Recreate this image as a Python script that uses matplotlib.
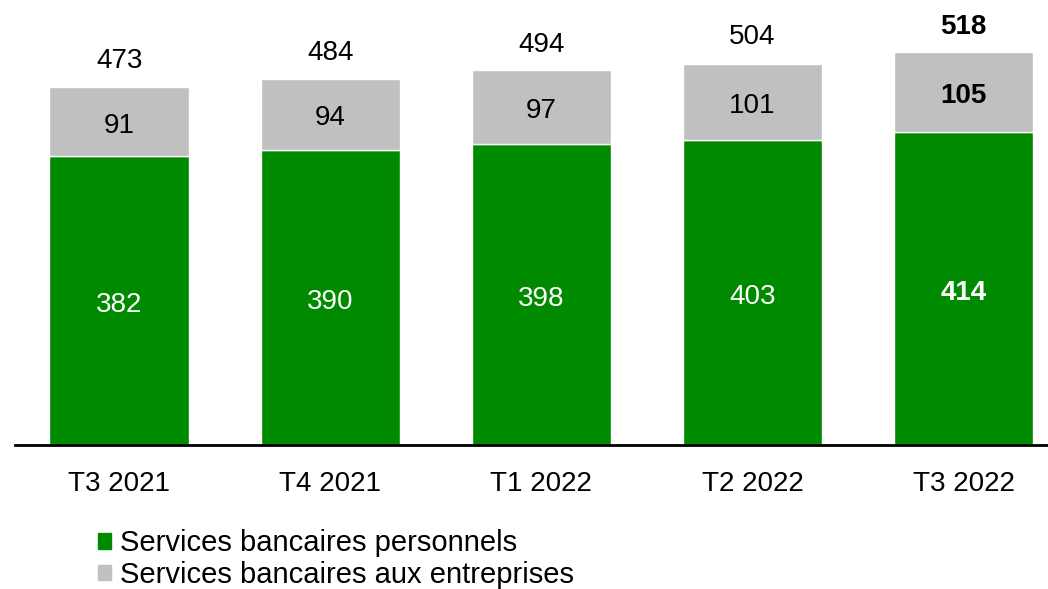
import matplotlib.pyplot as plt
from matplotlib.patches import Patch

plt.rcParams['font.family'] = ['Liberation Sans', 'DejaVu Sans']

# Données
trimestres = ["T3 2021", "T4 2021", "T1 2022", "T2 2022", "T3 2022"]
personnels = [382, 390, 398, 403, 414]
entreprises = [91, 94, 97, 101, 105]
totaux = [473, 484, 494, 504, 518]

vert = "#008a00"
gris = "#c0c0c0"

fig = plt.figure(figsize=(10.48, 5.89), dpi=100)
ax = fig.add_axes([15 / 1048, 1 - 445 / 589, 1 - 15 / 1048, 445 / 589])

x = range(len(trimestres))
ax.bar(x, personnels, width=0.66, color=vert, edgecolor="white", linewidth=1)
ax.bar(x, entreprises, bottom=personnels, width=0.66, color=gris, edgecolor="white", linewidth=1)

# Étiquettes (légèrement décalées vers le bas)
decal = (0, -3)
for i in x:
    gras = "bold" if i == len(trimestres) - 1 else "normal"
    ax.annotate(str(personnels[i]), (i, personnels[i] / 2), xytext=decal,
                textcoords="offset points", ha="center", va="center",
                color="white", fontsize=20, fontweight=gras)
    ax.annotate(str(entreprises[i]), (i, personnels[i] + entreprises[i] / 2), xytext=decal,
                textcoords="offset points", ha="center", va="center",
                color="black", fontsize=20, fontweight=gras)
    ax.annotate(str(totaux[i]), (i, totaux[i] + 40), xytext=decal,
                textcoords="offset points", ha="center", va="center",
                color="black", fontsize=20, fontweight=gras)

ax.set_xlim(-0.493, 4.40)
ax.set_ylim(0, 588)
ax.set_xticks(list(x))
ax.set_xticklabels(trimestres, fontsize=20)
ax.tick_params(axis="x", length=0, pad=18.5)
ax.set_yticks([])
for cote in ["top", "right", "left"]:
    ax.spines[cote].set_visible(False)
ax.spines["bottom"].set_linewidth(2)

poignees = [Patch(color=vert, label="Services bancaires personnels"),
            Patch(color=gris, label="Services bancaires aux entreprises")]
fig.legend(handles=poignees, loc="upper left", bbox_to_anchor=(0.0793, 0.126),
           frameon=False, fontsize=21, handlelength=0.45, handleheight=0.45,
           handletextpad=0.3, labelspacing=0.12, borderpad=0)

fig.savefig("out.png", dpi=100)
